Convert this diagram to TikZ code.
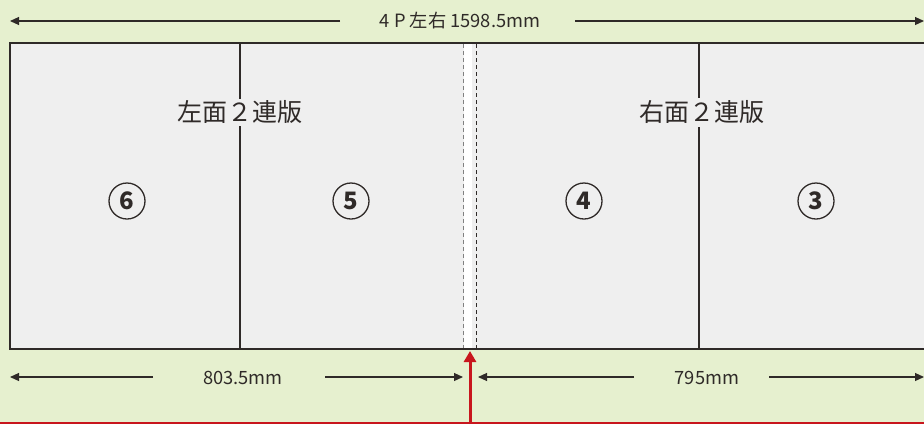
\documentclass[tikz,border=0pt]{standalone}
\usepackage{fontspec}
\setmainfont{Noto Sans CJK JP}
\usetikzlibrary{arrows.meta}
\definecolor{bggreen}{HTML}{E6F0CF}
\definecolor{panel}{HTML}{EFEFEF}
\definecolor{ink}{HTML}{2F2A28}
\definecolor{redline}{HTML}{C8161D}
\tikzset{
  dimline/.style={draw=ink, line width=1.1pt, -{Triangle[length=9pt,width=8pt]}},
  dimtext/.style={font=\fontsize{18.3}{18.3}\selectfont, text=ink, inner sep=0pt},
  boxline/.style={draw=ink, line width=1.2pt},
  numcircle/.style={circle, draw=ink, line width=1.3pt, minimum size=36pt, inner sep=0pt,
     font=\fontsize{24}{24}\selectfont\bfseries, text=ink},
  headtext/.style={font=\fontsize{25}{25}\selectfont, text=ink, inner sep=0pt},
  foldline/.style={draw=ink, line width=0.9pt, dash pattern=on 4pt off 3pt},
}
\begin{document}
\begin{tikzpicture}[x=1pt,y=-1pt]
\useasboundingbox (0,0) rectangle (924,424);
\clip (0,0) rectangle (924,424);
\fill[bggreen] (0,0) rectangle (924,424);
% main panel
\filldraw[fill=panel, boxline] (10,43) rectangle (940,349);
% panel dividers (broken behind the heading halo)
\draw[boxline] (240,43) -- (240,99);
\draw[boxline] (240,126) -- (240,349);
\draw[boxline] (699,43) -- (699,98);
\draw[boxline] (699,127) -- (699,349);
% fold
\fill[white] (464,44) rectangle (472,348.4);
\draw[foldline, draw=gray] (463.5,44) -- (463.5,348.4);
\draw[foldline] (476.5,44) -- (476.5,348.4);
% top dimension
\node[dimtext] (topt) at (460,21) {4 P 左右 1598.5mm};
\coordinate (tl) at (10,21);
\coordinate (tr) at (924,21);
\coordinate (tla) at (340,21);
\coordinate (tra) at (575,21);
\draw[dimline] (tla) -- (tl);
\draw[dimline] (tra) -- (tr);
% bottom dimensions
\node[dimtext] (lt) at (243,378) {803.5mm};
\coordinate (l1) at (10,377);
\coordinate (l1a) at (153,377);
\coordinate (l2a) at (325,377);
\coordinate (l2) at (463,377);
\draw[dimline] (l1a) -- (l1);
\draw[dimline] (l2a) -- (l2);
\node[dimtext] (rt) at (707,378) {795mm};
\coordinate (r1) at (478,377);
\coordinate (r1a) at (634,377);
\coordinate (r2a) at (769,377);
\coordinate (r2) at (924,377);
\draw[dimline] (r1a) -- (r1);
\draw[dimline] (r2a) -- (r2);
% headings
\node[headtext] (lh) at (240,112) {左面２連版};
\node[headtext] (rh) at (702,112) {右面２連版};
% numbers
\node[numcircle] (n6) at (127,201) {6};
\node[numcircle] (n5) at (351,201) {5};
\node[numcircle] (n4) at (584,201) {4};
\node[numcircle] (n3) at (816,201) {3};
% red
\draw[redline, line width=2pt] (0,423) -- (924,423);
\coordinate (rb) at (470,424);
\coordinate (rt2) at (470,351);
\draw[redline, line width=3pt, -{Triangle[length=11pt,width=12pt]}] (rb) -- (rt2);
\end{tikzpicture}
\end{document}
